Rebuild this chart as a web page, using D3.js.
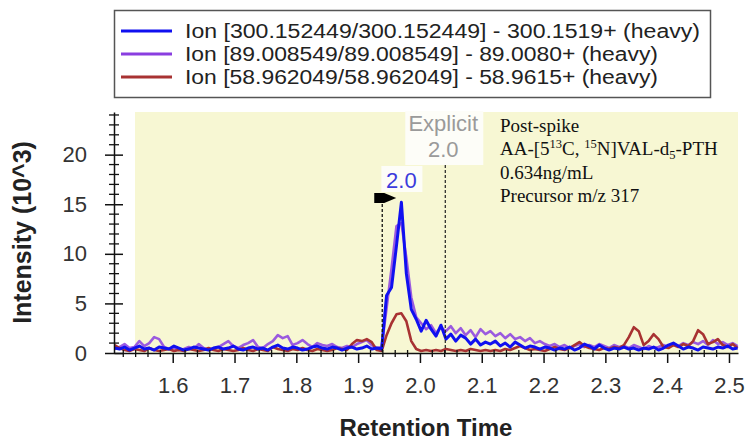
<!DOCTYPE html>
<html><head><meta charset="utf-8">
<script src="https://cdn.jsdelivr.net/npm/d3@7"></script>
<style>body{margin:0;background:#fff}</style>
</head><body>
<svg id="c" width="749" height="443"></svg>
<script>
// ---------- data ----------
const times = [1.506,1.514,1.522,1.530,1.538,1.546,1.554,1.562,1.570,1.578,1.586,1.594,1.602,1.610,1.618,1.626,1.634,1.642,1.650,1.658,
1.666,1.674,1.682,1.690,1.698,1.706,1.714,1.722,1.730,1.738,1.746,1.754,1.762,1.770,1.778,1.786,1.794,1.802,1.810,1.818,
1.826,1.834,1.842,1.850,1.858,1.866,1.874,1.882,1.890,1.898,1.906,1.914,1.922,1.930,1.938,1.946,1.954,1.962,1.970,1.978,
1.986,1.994,2.002,2.010,2.018,2.026,2.034,2.042,2.050,2.058,2.066,2.074,2.082,2.090,2.098,2.106,2.114,2.122,2.130,2.138,
2.146,2.154,2.162,2.170,2.178,2.186,2.194,2.202,2.210,2.218,2.226,2.234,2.242,2.250,2.258,2.266,2.274,2.282,2.290,2.298,
2.306,2.314,2.322,2.330,2.338,2.346,2.354,2.362,2.370,2.378,2.386,2.394,2.402,2.410,2.418,2.426,2.434,2.442,2.450,2.458,
2.466,2.474,2.482,2.490,2.498,2.506,2.514];

const ion300 = [0.5,0.4,0.6,0.3,0.5,0.7,0.4,0.5,0.3,0.6,
0.5,0.4,0.7,0.5,0.3,0.4,0.6,0.5,0.4,0.3,
0.5,0.6,0.4,0.5,0.7,0.4,0.3,0.5,0.6,0.4,
0.5,0.3,0.6,0.8,0.5,0.4,0.6,0.5,0.3,0.4,
0.6,0.7,0.5,0.4,0.6,0.5,0.3,0.5,0.6,0.4,
0.5,0.7,0.4,0.5,0.4,5.8,6.6,10.8,15.2,8.0,
4.4,3.4,2.2,3.3,2.4,1.7,2.8,1.4,1.9,1.2,
1.8,1.5,0.9,1.4,0.8,1.1,0.9,1.2,0.7,1.0,
0.6,1.1,0.8,0.5,0.7,0.6,0.4,0.6,0.5,0.3,
0.5,0.4,0.6,0.3,0.5,0.9,0.7,0.4,0.8,0.5,
0.3,0.5,0.4,0.6,0.4,0.5,0.3,0.5,0.4,0.6,
0.3,0.5,0.8,1.0,0.7,0.4,0.6,0.5,0.3,0.6,
0.5,0.4,0.6,0.5,0.7,0.4,0.5];

const ion89 = [0.4,0.6,0.9,0.5,0.6,1.2,0.7,1.0,1.6,1.4,
0.6,0.4,0.5,0.3,0.4,0.6,0.4,0.9,0.5,0.3,
0.4,0.6,0.9,1.2,0.7,0.5,0.8,1.0,1.3,0.6,
0.5,0.9,1.2,1.8,1.5,1.7,0.8,1.0,1.3,0.9,
0.6,1.0,0.8,0.7,0.9,0.6,0.5,0.7,0.6,0.9,
1.1,1.3,0.8,0.5,0.6,4.5,8.5,12.8,13.1,9.6,
5.6,3.6,3.0,2.4,2.8,2.0,2.6,2.2,2.7,2.0,
2.5,1.8,2.3,1.6,2.4,1.9,2.2,1.7,2.0,1.5,
1.9,1.4,1.6,1.2,1.5,1.0,1.2,0.9,0.7,0.9,
0.6,0.8,0.5,0.7,0.9,0.6,0.8,0.6,0.9,0.7,
0.5,0.8,0.6,0.7,0.5,0.8,0.6,0.4,0.7,0.5,
0.6,0.8,0.6,0.9,0.7,1.0,0.8,1.1,0.9,1.2,
0.8,1.3,0.9,1.1,0.8,1.0,0.7];

const ion59 = [0.8,0.5,0.3,0.2,0.4,0.3,0.2,0.5,0.3,0.2,
0.3,0.4,0.2,0.3,0.2,0.4,0.3,0.2,0.3,0.5,
0.3,0.2,0.4,0.3,0.2,0.3,0.5,0.3,0.2,0.4,
0.3,0.2,0.6,0.4,0.3,0.2,0.4,0.3,0.5,0.3,
0.2,0.4,0.3,0.2,0.3,0.5,0.4,0.3,0.9,1.3,
1.2,1.4,1.1,0.3,0.2,1.8,3.0,3.9,4.0,3.2,
1.2,0.4,0.2,0.3,0.2,0.3,0.2,0.4,0.3,0.2,
0.3,0.2,0.4,0.3,0.2,0.3,0.2,0.3,0.2,0.4,
0.3,0.5,0.7,0.5,0.3,0.4,0.3,0.2,0.4,0.6,
0.4,0.3,0.5,0.8,1.1,0.7,0.5,0.4,0.3,0.5,
0.4,0.6,0.5,0.8,1.6,2.6,2.2,0.8,1.2,1.9,
1.4,0.6,0.5,0.8,0.6,0.9,0.7,1.2,2.3,1.9,
0.9,1.1,1.4,0.8,0.6,0.9,0.5];

const seriesNames = [
  "Ion [300.152449/300.152449] - 300.1519+ (heavy)",
  "Ion [89.008549/89.008549] - 89.0080+ (heavy)",
  "Ion [58.962049/58.962049] - 58.9615+ (heavy)"
];
const seriesColors = ["#1010f0", "#8a3ee0", "#a83232"];
const xTicks = [1.6,1.7,1.8,1.9,2.0,2.1,2.2,2.3,2.4,2.5];
const yTicks = [0,5,10,15,20];
const xDomain = [1.505, 2.5146];
const yDomain = [0, 24.3];
const peakStart = 1.939, peakEnd = 2.041, apexTime = 1.970, apexValue = 15.2;
const apexLabel = "2.0", explicitLabel = ["Explicit", "2.0"];
const noteLines = ["Post-spike", "AA-[5|13|C, |15|N]VAL-d|5|-PTH", "0.634ng/mL", "Precursor m/z 317"];

// ---------- drawing ----------
const svg = d3.select("#c");
const x = d3.scaleLinear().domain(xDomain).range([114, 738]);
const y = d3.scaleLinear().domain(yDomain).range([353, 112]);
const font = "Liberation Sans, Arial, sans-serif";

// plot background
svg.append("rect").attr("x", x(1.539)).attr("y", y(yDomain[1]))
  .attr("width", x(xDomain[1]) - x(1.539)).attr("height", y(0) - y(yDomain[1]))
  .attr("fill", "#f7f7d3");

// series (drawn purple, red, blue)
const drawOrder = [[ion89, 1], [ion59, 2], [ion300, 0]];
const line = d3.line().x((d, i) => x(times[i])).y(d => y(d));
drawOrder.forEach(([vals, ci]) => {
  svg.append("path").datum(vals).attr("d", line)
    .attr("fill", "none").attr("stroke", seriesColors[ci])
    .attr("stroke-width", ci === 0 ? 3 : 2.6)
    .attr("stroke-linejoin", "round").attr("opacity", ci === 1 ? 0.85 : 1);
});

// peak boundaries
svg.append("line").attr("x1", x(peakStart)).attr("x2", x(peakStart))
  .attr("y1", 199).attr("y2", y(0)).attr("stroke", "#111").attr("stroke-width", 1.3)
  .attr("stroke-dasharray", "3,2");
svg.append("line").attr("x1", x(peakEnd)).attr("x2", x(peakEnd))
  .attr("y1", 165).attr("y2", y(0)).attr("stroke", "#222").attr("stroke-width", 1.2)
  .attr("stroke-dasharray", "3,2");
const fx = x(peakStart);
svg.append("path")
  .attr("d", `M${fx-8},193 L${fx+2},193 L${fx+14},198 L${fx+2},203 L${fx-8},203 Z`)
  .attr("fill", "#000");

// explicit label
svg.append("rect").attr("x", x(peakEnd) - 40).attr("y", 111).attr("width", 78).attr("height", 54)
  .attr("fill", "#fdfdf8");
explicitLabel.forEach((t, i) => {
  svg.append("text").attr("x", x(peakEnd) - 2).attr("y", 131 + i * 26).attr("text-anchor", "middle")
    .attr("font-family", font).attr("font-size", 22).attr("fill", "#9a9a9a").text(t);
});

// apex label
svg.append("rect").attr("x", x(apexTime) - 20).attr("y", 166).attr("width", 41).attr("height", 26)
  .attr("fill", "#fdfdf8");
svg.append("text").attr("x", x(apexTime)).attr("y", 188).attr("text-anchor", "middle")
  .attr("font-family", font).attr("font-size", 22).attr("fill", "#3b3bdc").text(apexLabel);

// annotation
const note = svg.append("text").attr("font-family", "Liberation Serif, Times New Roman, serif")
  .attr("font-size", 19).attr("fill", "#111");
noteLines.forEach((ln, i) => {
  const parts = ln.split("|");
  const base = 132 + i * 23.4;
  parts.forEach((p, j) => {
    const ts = note.append("tspan").text(p);
    if (j === 0) ts.attr("x", 500).attr("y", base);
    else if (i === 1 && (j === 1 || j === 3)) ts.attr("y", base - 7).attr("font-size", 12.5);
    else if (i === 1 && j === 5) ts.attr("y", base + 4).attr("font-size", 12.5);
    else ts.attr("y", base);
  });
});

// axes
const xAxis = svg.append("g").attr("transform", `translate(0,${y(0)})`)
  .call(d3.axisBottom(x).tickValues(xTicks).tickFormat(d3.format(".1f")).tickSize(10).tickPadding(14).tickSizeOuter(0));
xAxis.selectAll("text").attr("font-family", font).attr("font-size", 22).attr("fill", "#333");
xAxis.selectAll("line").attr("stroke", "#111").attr("stroke-width", 1.5);
xAxis.select(".domain").attr("stroke", "#111").attr("stroke-width", 1.5);
svg.append("g").selectAll("line").data(x.ticks(50).filter(t => !xTicks.some(m => Math.abs(m - t) < 1e-6)))
  .join("line").attr("x1", d => x(d)).attr("x2", d => x(d))
  .attr("y1", y(0) - 3).attr("y2", y(0) + 4).attr("stroke", "#111").attr("stroke-width", 1.3);

const yAxis = svg.append("g").attr("transform", `translate(${x(xDomain[0])},0)`)
  .call(d3.axisLeft(y).tickValues(yTicks).tickSize(9).tickPadding(18).tickSizeOuter(0));
yAxis.selectAll("text").attr("font-family", font).attr("font-size", 22).attr("fill", "#333");
yAxis.selectAll(".tick line").attr("x1", 9).attr("stroke", "#111").attr("stroke-width", 1.5);
yAxis.select(".domain").attr("stroke", "#111").attr("stroke-width", 1.5);
svg.append("g").selectAll("line").data(y.ticks(24).filter(t => t % 5 !== 0))
  .join("line").attr("x1", x(xDomain[0]) - 5).attr("x2", x(xDomain[0]) + 5)
  .attr("y1", d => y(d)).attr("y2", d => y(d)).attr("stroke", "#111").attr("stroke-width", 1.3);

// titles
svg.append("text").attr("x", 426).attr("y", 436).attr("text-anchor", "middle")
  .attr("font-family", font).attr("font-weight", "bold").attr("font-size", 24).attr("fill", "#222")
  .text("Retention Time");
svg.append("text").attr("transform", `translate(31,${(y(0) + y(yDomain[1])) / 2}) rotate(-90)`)
  .attr("text-anchor", "middle").attr("font-family", font).attr("font-weight", "bold")
  .attr("font-size", 25).attr("fill", "#222").text("Intensity (10^3)");

// legend
const lg = svg.append("g");
lg.append("rect").attr("x", 114.5).attr("y", 10.5).attr("width", 596).attr("height", 87)
  .attr("fill", "#fff").attr("stroke", "#555").attr("stroke-width", 1.5);
const legendWidths = [515, 473, 473];
seriesNames.forEach((nm, i) => {
  const cy = 31 + i * 23;
  lg.append("line").attr("x1", 121).attr("x2", 172).attr("y1", cy).attr("y2", cy)
    .attr("stroke", seriesColors[i]).attr("stroke-width", 3);
  lg.append("text").attr("x", 185).attr("y", cy + 7).attr("font-family", font)
    .attr("font-size", 20).attr("fill", "#222")
    .attr("textLength", legendWidths[i]).attr("lengthAdjust", "spacingAndGlyphs").text(nm);
});
</script>
</body></html>
